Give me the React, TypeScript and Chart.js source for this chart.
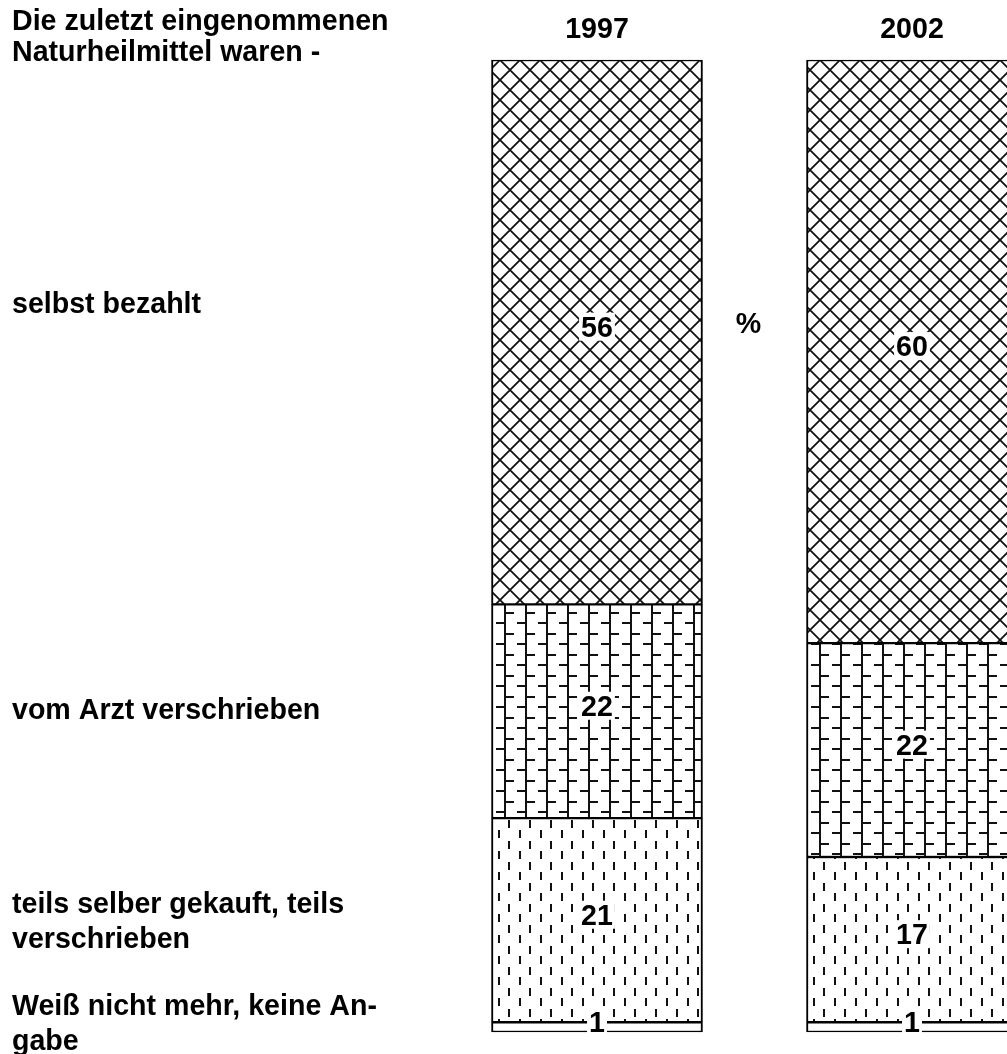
import React, { useEffect, useRef } from 'react';
import { Chart, registerables } from 'chart.js';

Chart.register(...registerables);

const years = ['1997', '2002'];
const titleLines = ['Die zuletzt eingenommenen', 'Naturheilmittel waren -'];
// left-hand category labels (top to bottom)
const categoryLines = [
  ['selbst bezahlt'],
  ['vom Arzt verschrieben'],
  ['teils selber gekauft, teils', 'verschrieben'],
  ['Weiß nicht mehr, keine An-', 'gabe'],
];
// where each left-hand label sits on the value axis
const categoryLabelY = [75, 33.3, 11.5, 1];
// series values (stacked bottom-up)
const weissNicht = [1, 1];
const teilsTeils = [21, 17];
const vomArzt = [22, 22];
const selbstBezahlt = [56, 60];
const unitLabel = '%';
const unitLabelY = 73;

const FONT_SIZE = 28.6;
const FONT = `bold ${FONT_SIZE}px "Liberation Sans", Arial, Helvetica, sans-serif`;

function makeTile(w: number, h: number, draw: (g: CanvasRenderingContext2D) => void) {
  const c = document.createElement('canvas');
  c.width = w;
  c.height = h;
  const g = c.getContext('2d')!;
  g.fillStyle = '#fff';
  g.fillRect(0, 0, w, h);
  draw(g);
  return c;
}

function makePatterns(ctx: CanvasRenderingContext2D) {
  const P = 20;
  const lattice = makeTile(P, P, (g) => {
    g.strokeStyle = '#111';
    g.lineWidth = 1.8;
    g.beginPath();
    g.moveTo(-2, -2);
    g.lineTo(P + 2, P + 2);
    g.moveTo(P + 2, -2);
    g.lineTo(-2, P + 2);
    g.stroke();
  });
  const brick = makeTile(21, 21, (g) => {
    g.fillStyle = '#111';
    g.fillRect(0, 0, 2, 21);
    g.fillRect(2, 3, 8, 2);
    g.fillRect(13, 13, 8, 2);
  });
  const dashes = makeTile(21, 21, (g) => {
    g.fillStyle = '#111';
    g.fillRect(4, 1, 2, 8);
    g.fillRect(15, 11, 2, 8);
  });
  return {
    lattice: ctx.createPattern(lattice, 'repeat')!,
    brick: ctx.createPattern(brick, 'repeat')!,
    dashes: ctx.createPattern(dashes, 'repeat')!,
  };
}

const textPlugin = {
  id: 'textPlugin',
  afterDatasetsDraw(chart: any) {
    const ctx: CanvasRenderingContext2D = chart.ctx;
    const xs = chart.scales.x;
    const ys = chart.scales.y;
    ctx.save();
    ctx.font = FONT;
    // value labels with white boxes
    chart.data.datasets.forEach((ds: any, i: number) => {
      const meta = chart.getDatasetMeta(i);
      meta.data.forEach((el: any, j: number) => {
        const p = el.getProps(['x', 'y', 'base'], true);
        const cy = (p.y + p.base) / 2 - 5.5;
        const txt = String(ds.data[j]);
        const w = ctx.measureText(txt).width;
        ctx.fillStyle = '#fff';
        ctx.fillRect(p.x - w / 2 - 2, cy - 14, w + 4, 28);
        ctx.fillStyle = '#000';
        ctx.textAlign = 'center';
        ctx.textBaseline = 'alphabetic';
        ctx.fillText(txt, p.x, cy + FONT_SIZE * 0.358);
      });
    });
    ctx.fillStyle = '#000';
    // years
    ctx.textAlign = 'center';
    years.forEach((yr, i) => {
      ctx.fillText(yr, xs.getPixelForValue(i), 38);
    });
    // unit label
    const ux = (xs.getPixelForValue(0) + xs.getPixelForValue(1)) / 2 - 6;
    ctx.fillText(unitLabel, ux, ys.getPixelForValue(unitLabelY) + FONT_SIZE * 0.358);
    // title
    ctx.textAlign = 'left';
    titleLines.forEach((ln, i) => ctx.fillText(ln, 12, 30 + i * 31));
    // category labels
    categoryLines.forEach((lines, k) => {
      const c = ys.getPixelForValue(categoryLabelY[k]);
      lines.forEach((ln, li) => {
        const lc = c + (li - (lines.length - 1) / 2) * 35;
        ctx.fillText(ln, 12, lc + FONT_SIZE * 0.358);
      });
    });
    ctx.restore();
  },
};

export default function App() {
  const ref = useRef<HTMLCanvasElement>(null);
  useEffect(() => {
    document.body.style.margin = '0';
    const canvas = ref.current!;
    const ctx = canvas.getContext('2d')!;
    const pats = makePatterns(ctx);
    const border = { left: 2, right: 2, top: 1.5, bottom: 1.5 };
    const common = {
      borderColor: '#000',
      borderWidth: border,
      borderSkipped: false,
      barThickness: 211,
      clip: false,
    };
    const chart = new Chart(canvas, {
      type: 'bar',
      data: {
        labels: years,
        datasets: [
          { label: 'Weiß nicht mehr, keine Angabe', data: weissNicht, backgroundColor: '#fff', ...common },
          { label: 'teils selber gekauft, teils verschrieben', data: teilsTeils, backgroundColor: pats.dashes, ...common },
          { label: 'vom Arzt verschrieben', data: vomArzt, backgroundColor: pats.brick, ...common },
          { label: 'selbst bezahlt', data: selbstBezahlt, backgroundColor: pats.lattice, ...common },
        ] as any,
      },
      options: {
        responsive: false,
        animation: false,
        layout: { padding: { left: 597, right: 95, top: 60, bottom: 22 } },
        plugins: { legend: { display: false }, tooltip: { enabled: false } },
        scales: {
          x: { stacked: true, display: false, offset: false },
          y: { stacked: true, display: false, min: 0, max: 100 },
        },
      },
      plugins: [textPlugin],
    });
    return () => chart.destroy();
  }, []);
  return (
    <div style={{ width: 1007, height: 1054, background: '#fff' }}>
      <canvas ref={ref} width={1007} height={1054} style={{ display: 'block' }} />
    </div>
  );
}
